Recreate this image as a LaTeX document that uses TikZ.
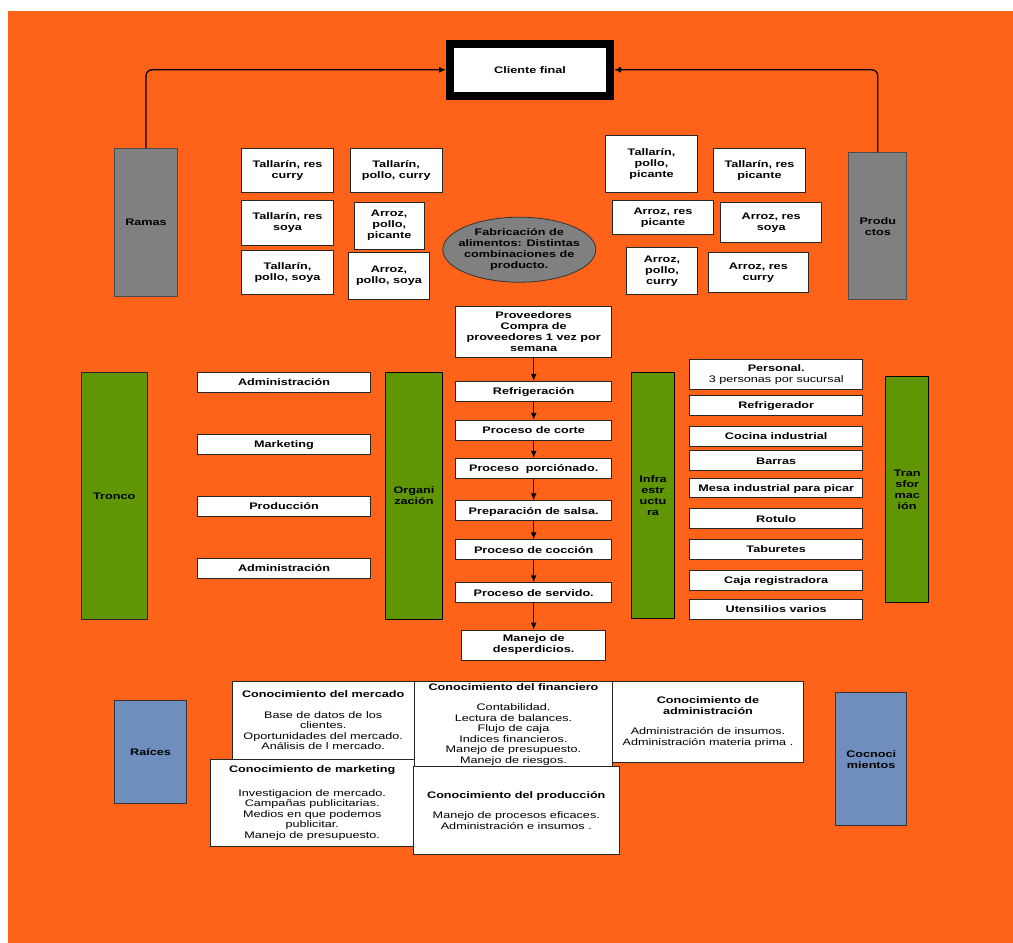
\documentclass[tikz,border=0pt]{standalone}
\usepackage{fontspec}
\setmainfont{Liberation Sans}[FakeStretch=1.33]
\usetikzlibrary{shapes.geometric,arrows.meta}
\definecolor{fondo}{RGB}{255,99,26}
\definecolor{gris}{RGB}{128,128,128}
\definecolor{verde}{RGB}{96,150,6}
\definecolor{azul}{RGB}{110,142,190}
\begin{document}
\begin{tikzpicture}[x=1pt,y=1pt,yscale=-1,
  caja/.style={draw=black!85, fill=white, line width=0.8, inner sep=1, align=center, font=\fontsize{9.5}{11}\selectfont\bfseries},
  linea/.style={caja, text height=6.8, text depth=0},
  saber/.style={caja, font=\fontsize{9.5}{10.5}\selectfont},
  columna/.style={caja, draw=black, line width=1},
  flecha/.style={-{Latex[length=7pt,width=6pt]}, line width=1.3}]
\useasboundingbox (0,0) rectangle (1013,943);
\fill [white] (0,0) rectangle (1013,943);
\fill [fondo] (8,11) rectangle (1013,943);
\node[linea, draw=black, line width=8, minimum width=160, minimum height=52.5] (cliente) at (530,69.8) {Cliente final};
\node[columna, linea, fill=gris, draw=black!70, minimum width=63, minimum height=147.5] (ramas) at (146,222.2) {Ramas};
\node[columna, fill=gris, draw=black!70, minimum width=57.7, minimum height=147] (productos) at (877.8,226.2) {Produ\\ctos};
\draw [flecha, rounded corners=6] (ramas.north) |- (cliente.west);
\draw [flecha, rounded corners=6] (productos.north) |- (cliente.east);
\node[caja, minimum width=91.6, minimum height=44] (tallResCurry) at (287.5,170.7) {Tallarín, res\\curry};
\node[caja, minimum width=91.7, minimum height=44] (tallPolloCurry) at (396.2,170.7) {Tallarín,\\pollo, curry};
\node[caja, minimum width=91.6, minimum height=44.7] (tallResSoya) at (287.5,222.7) {Tallarín, res\\soya};
\node[caja, minimum width=70.3, minimum height=46.7] (arrozPolloPicante) at (389.2,225.7) {Arroz,\\pollo,\\picante};
\node[caja, minimum width=91.6, minimum height=44.4] (tallPolloSoya) at (287.5,272.5) {Tallarín,\\pollo, soya};
\node[caja, minimum width=80.6, minimum height=46.7] (arrozPolloSoya) at (389,275.7) {Arroz,\\pollo, soya};
\node[caja, minimum width=91.6, minimum height=57] (tallPolloPicante) at (651.5,164.2) {Tallarín,\\pollo,\\picante};
\node[caja, minimum width=91.6, minimum height=44] (tallResPicante) at (759.5,170.7) {Tallarín, res\\picante};
\node[caja, minimum width=100.6, minimum height=33.6] (arrozResPicante) at (663,217.5) {Arroz, res\\picante};
\node[caja, minimum width=101, minimum height=40.7] (arrozResSoya) at (771.2,222.3) {Arroz, res\\soya};
\node[caja, minimum width=70.6, minimum height=47] (arrozPolloCurry) at (662,271.2) {Arroz,\\pollo,\\curry};
\node[caja, minimum width=100.7, minimum height=40.4] (arrozResCurry) at (758.3,272.5) {Arroz, res\\curry};
\node[ellipse, draw=black!80, fill=gris, line width=0.8, inner sep=0, minimum width=153, minimum height=65] (fabricacion) at (519.3,249.7) {};
\node[align=center, font=\fontsize{9.5}{11}\selectfont\bfseries] (fabricacionTexto) at (fabricacion) {Fabricación de\\alimentos: Distintas\\combinaciones de\\producto.};
\node[caja, minimum width=156, minimum height=50.7] (prov) at (533.7,331.7) {Proveedores\\Compra de\\proveedores 1 vez por\\semana};
\node[linea, minimum width=156, minimum height=20] (refr) at (533.7,391.3) {Refrigeración};
\node[linea, minimum width=156, minimum height=19.7] (corte) at (533.7,430.2) {Proceso de corte};
\node[linea, minimum width=156, minimum height=20] (porcion) at (533.7,468.3) {Proceso\ \ porciónado.};
\node[linea, minimum width=156, minimum height=20] (salsa) at (533.7,510.7) {Preparación de salsa.};
\node[linea, minimum width=156, minimum height=20] (coccion) at (533.7,549.7) {Proceso de cocción};
\node[linea, minimum width=156, minimum height=20] (servido) at (533.7,592.7) {Proceso de servido.};
\node[caja, minimum width=144, minimum height=30] (desperdicio) at (533.7,645) {Manejo de\\desperdicios.};
\foreach \a/\b in {prov/refr,refr/corte,corte/porcion,porcion/salsa,salsa/coccion,coccion/servido,servido/desperdicio}
  \draw [flecha] (\a.south) -- (\b.north);
\node[columna, linea, fill=verde, minimum width=65.7, minimum height=247] (tronco) at (114.2,495.8) {Tronco};
\node[linea, minimum width=173, minimum height=20] (admin1) at (284,382.3) {Administración};
\node[linea, minimum width=173, minimum height=20] (marketing) at (284,444.3) {Marketing};
\node[linea, minimum width=173, minimum height=20] (produccion) at (284,506.3) {Producción};
\node[linea, minimum width=173, minimum height=19.7] (admin2) at (284,568.2) {Administración};
\node[columna, fill=verde, minimum width=57, minimum height=247] (organizacion) at (414,495.8) {Organi\\zación};
\node[columna, fill=verde, minimum width=42.6, minimum height=246.3] (infra) at (653,495.8) {Infra\\estr\\uctu\\ra};
\node[caja, minimum width=173, minimum height=30] (personal) at (776.2,374.3) {Personal.\\{\mdseries 3 personas por sucursal}};
\node[linea, minimum width=173, minimum height=19.6] (refrigerador) at (776.2,405.5) {Refrigerador};
\node[linea, minimum width=173, minimum height=20] (cocina) at (776.2,436.3) {Cocina industrial};
\node[linea, minimum width=173, minimum height=20] (barras) at (776.2,460.7) {Barras};
\node[linea, minimum width=173, minimum height=19.7] (mesa) at (776.2,487.8) {Mesa industrial para picar};
\node[linea, minimum width=173, minimum height=20] (rotulo) at (776.2,518.7) {Rotulo};
\node[linea, minimum width=173, minimum height=20] (taburetes) at (776.2,549.3) {Taburetes};
\node[linea, minimum width=173, minimum height=20] (registradora) at (776.2,580.3) {Caja registradora};
\node[linea, minimum width=173, minimum height=19.7] (utensilios) at (776.2,609.2) {Utensilios varios};
\node[columna, fill=verde, minimum width=43, minimum height=226] (transformacion) at (907.2,489.3) {Tran\\sfor\\mac\\ión};
\node[columna, linea, fill=azul, draw=black!80, minimum width=72.4, minimum height=102.7] (raices) at (150.5,751.7) {Raíces};
\node[saber, minimum width=181.7, minimum height=77.3] (sabMercado) at (323.2,720.3) {\textbf{Conocimiento del mercado}\\[10.5pt]Base de datos de los\\clientes.\\Oportunidades del mercado.\\Análisis de l mercado.};
\node[saber, minimum width=197.6, minimum height=85] (sabFinanciero) at (513.5,724.2) {\textbf{Conocimiento del financiero}\\[10pt]Contabilidad.\\Lectura de balances.\\Flujo de caja\\Indices financieros.\\Manejo de presupuesto.\\Manejo de riesgos.};
\node[saber, minimum width=190.6, minimum height=81] (sabAdmin) at (708,722.2) {\textbf{Conocimiento de}\\\textbf{administración}\\[10pt]Administración de insumos.\\Administración materia prima .};
\node[saber, minimum width=203.7, minimum height=87.4] (sabMarketing) at (312.2,803) {\textbf{Conocimiento de marketing}\\[12.8pt]Investigacion de mercado.\\Campañas publicitarias.\\Medios en que podemos\\publicitar.\\Manejo de presupuesto.};
\node[saber, minimum width=206, minimum height=87.6] (sabProduccion) at (516.3,810.5) {\textbf{Conocimiento del producción}\\[10pt]Manejo de procesos eficaces.\\Administración e insumos .};
\node[columna, fill=azul, draw=black!80, minimum width=71, minimum height=133.3] (conocimientos) at (871.2,759.3) {Cocnoci\\mientos};
\end{tikzpicture}
\end{document}
